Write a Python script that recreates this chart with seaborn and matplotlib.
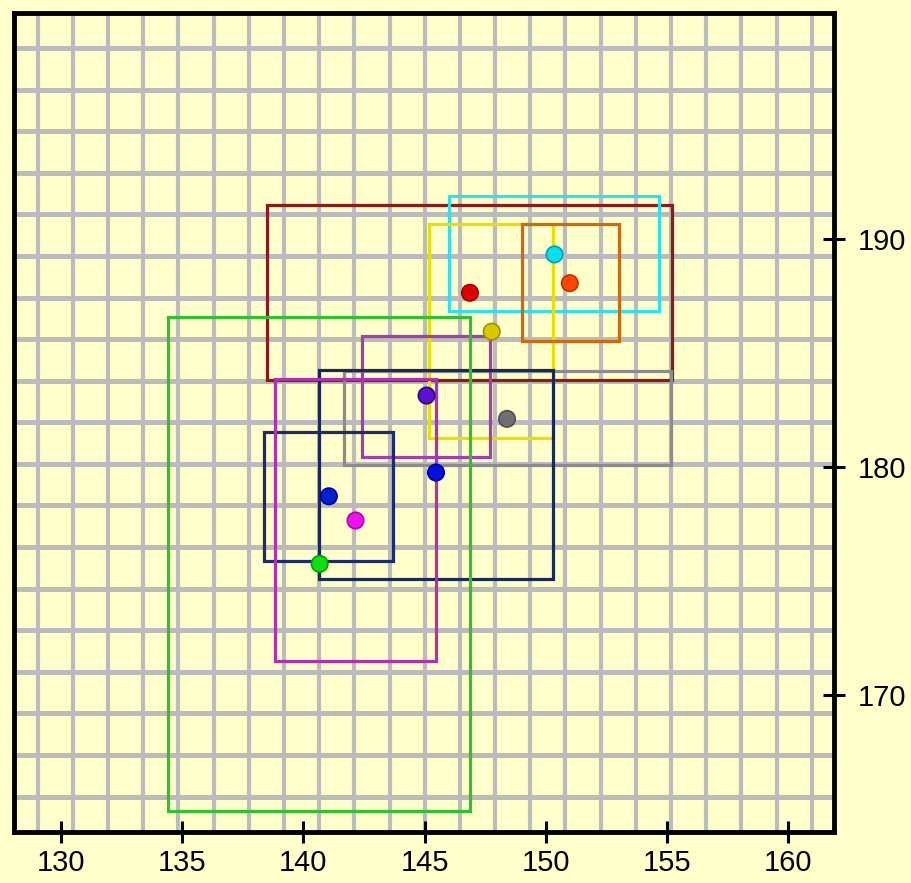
import numpy as np
import pandas as pd
import matplotlib
matplotlib.use("Agg")
import matplotlib.pyplot as plt
from matplotlib.patches import Rectangle
import seaborn as sns

# group centres (points) and their boxes
groups = ["red", "cyan", "yellow", "orange", "grey", "purple", "blue", "navy", "magenta", "green"]
pt_x = [146.87, 150.36, 147.77, 150.99, 148.40, 145.08, 145.47, 141.05, 142.15, 140.67]
pt_y = [187.63, 189.31, 185.93, 188.05, 182.11, 183.13, 179.76, 178.72, 177.66, 175.76]
box_xmin = [138.48, 146.01, 145.18, 149.01, 141.69, 142.40, 140.65, 138.38, 138.81, 134.41]
box_xmax = [155.21, 154.68, 150.29, 153.03, 155.15, 147.68, 150.29, 143.68, 145.47, 146.89]
box_ymin = [183.83, 186.84, 181.28, 185.51, 180.09, 180.44, 175.10, 175.90, 171.52, 164.96]
box_ymax = [191.49, 191.86, 190.66, 190.62, 184.21, 185.75, 184.24, 181.55, 183.84, 186.58]

x_ticks = [130, 135, 140, 145, 150, 155, 160]
y_ticks = [170, 180, 190]

point_colors = ["#E00000", "#00E0EE", "#D8C800", "#FF4500", "#707070",
                "#5A10D0", "#0010E0", "#0020D0", "#F010F0", "#10E010"]
edge_colors = ["#A00000", "#00A0B0", "#A09000", "#C03000", "#505050",
               "#3A0090", "#0000A0", "#0000A0", "#B000B0", "#00A000"]
box_colors = ["#8B1A1A", "#30E0EE", "#E8E000", "#CD6A10", "#8C8C8C",
              "#A040B0", "#1A2A55", "#1F2A6B", "#B030B0", "#30C030"]

bg = "#FFFFCC"

sns.set_theme(style="white")
plt.rcParams["font.family"] = ["Liberation Sans", "DejaVu Sans"]

fig = plt.figure(figsize=(9.12, 8.83), dpi=100, facecolor=bg)
ax = fig.add_axes([0.01535, 0.0572, 0.915 - 0.01535, 0.9858 - 0.0572])
ax.set_facecolor(bg)

xlim = (128.06, 161.91)
ylim = (164.0, 199.9)

# grid lines (evenly spaced, not on the ticks)
for gx in np.linspace(129.04, 160.97, 23):
    ax.axvline(gx, color="#BBBBBB", lw=3.0, zorder=0)
for gy in np.linspace(165.57, 198.35, 19):
    ax.axhline(gy, color="#BBBBBB", lw=3.6, zorder=0)

for i in range(len(groups)):
    ax.add_patch(Rectangle((box_xmin[i], box_ymin[i]),
                           box_xmax[i] - box_xmin[i], box_ymax[i] - box_ymin[i],
                           fill=False, edgecolor=box_colors[i], lw=2.3, zorder=2))

df = pd.DataFrame({"x": pt_x, "y": pt_y, "group": groups})
sns.scatterplot(data=df, x="x", y="y", hue="group", palette=dict(zip(groups, point_colors)),
                s=140, linewidth=1.2, edgecolor=edge_colors, legend=False, ax=ax, zorder=3)

ax.set_xlim(*xlim)
ax.set_ylim(*ylim)
ax.set_xticks(x_ticks)
ax.set_yticks(y_ticks)
ax.yaxis.tick_right()
ax.set_xlabel("")
ax.set_ylabel("")
ax.tick_params(axis="both", direction="inout", length=16, width=2.2, colors="black",
               labelsize=21)
ax.tick_params(axis="x", bottom=True, pad=4)
ax.tick_params(axis="y", right=True, left=False, pad=9)
for sp in ax.spines.values():
    sp.set_visible(True)
    sp.set_color("black")
    sp.set_linewidth(3.5)

fig.savefig("out.png", dpi=100, facecolor=bg)
plt.close(fig)
